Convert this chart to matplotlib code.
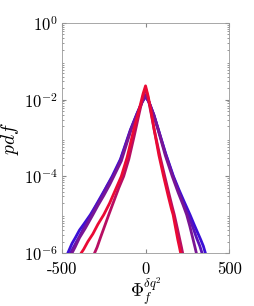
import numpy as np
import matplotlib
matplotlib.use("Agg")
import matplotlib.pyplot as plt

plt.rcParams["mathtext.fontset"] = "cm"
plt.rcParams["font.family"] = "serif"
plt.rcParams["font.serif"] = ["cmr10", "DejaVu Serif"]
plt.rcParams["axes.formatter.use_mathtext"] = True

# log10(pdf), one curve per case (blue -> red)
x_blue = [-465, -440, -420, -395, -370, -330, -300, -270, -235, -200, -150, -91, -50, -20, 0,
          20, 50, 77, 120, 167, 200, 230, 266, 290, 310, 330, 346, 358]
y_blue = [-6.0, -5.75, -5.6, -5.4, -5.25, -5.0, -4.78, -4.55, -4.28, -4.0, -3.55, -2.79, -2.35, -2.06, -1.92,
          -2.06, -2.4, -2.79, -3.4, -4.0, -4.35, -4.65, -5.0, -5.25, -5.45, -5.65, -5.82, -6.0]

x_violet = [-450, -425, -400, -370, -330, -300, -265, -230, -195, -150, -90, -50, -20, 0,
            20, 50, 78, 120, 165, 200, 235, 260, 285, 305, 325, 338]
y_violet = [-6.0, -5.8, -5.6, -5.35, -5.05, -4.8, -4.55, -4.25, -4.0, -3.58, -2.8, -2.36, -2.06, -1.9,
            -2.06, -2.4, -2.8, -3.42, -4.0, -4.4, -4.8, -5.05, -5.35, -5.6, -5.82, -6.0]

x_purple = [-440, -422, -395, -360, -315, -285, -250, -215, -190, -145, -88, -48, -20, 0,
            20, 50, 76, 118, 160, 195, 225, 246, 265, 282, 296, 304]
y_purple = [-6.0, -5.85, -5.6, -5.35, -5.0, -4.76, -4.5, -4.22, -4.0, -3.6, -2.8, -2.36, -2.05, -1.88,
            -2.05, -2.42, -2.8, -3.45, -4.0, -4.42, -4.75, -5.0, -5.3, -5.6, -5.85, -6.0]

x_crimson = [-305, -290, -270, -245, -220, -190, -160, -131, -100, -68, -35, -15, 0,
             15, 35, 52, 85, 115, 140, 160, 172, 190, 205, 215, 222]
y_crimson = [-6.0, -5.85, -5.6, -5.3, -5.0, -4.65, -4.3, -4.0, -3.55, -2.95, -2.3, -1.92, -1.7,
             -1.95, -2.4, -2.79, -3.45, -4.0, -4.45, -4.8, -5.0, -5.35, -5.65, -5.85, -6.0]

x_red = [-385, -370, -345, -315, -285, -250, -215, -180, -145, -110, -71, -35, -15, 0,
         15, 35, 52, 80, 108, 135, 155, 165, 180, 193, 203, 210]
y_red = [-6.0, -5.9, -5.7, -5.5, -5.25, -5.0, -4.7, -4.35, -4.0, -3.5, -2.79, -2.2, -1.85, -1.64,
         -1.9, -2.35, -2.79, -3.45, -4.0, -4.5, -4.85, -5.0, -5.35, -5.65, -5.85, -6.0]

curves = [
    (x_blue, y_blue, "#3a0fd6"),
    (x_violet, y_violet, "#5a12b8"),
    (x_purple, y_purple, "#7a1594"),
    (x_crimson, y_crimson, "#b80e62"),
    (x_red, y_red, "#ea0a34"),
]

fig = plt.figure(figsize=(2.54, 3.06), dpi=100)
ax = fig.add_axes([0.244, 0.173, 0.658, 0.752])

for xs, ys, c in curves:
    ax.plot(xs, 10.0 ** np.array(ys), color=c, lw=2.0)

ax.set_yscale("log")
ax.set_xlim(-500, 500)
ax.set_ylim(1e-6, 1)
ax.set_xticks([-500, 0, 500])
ax.set_xticklabels(["-500", "0", "500"])
ax.set_yticks([1e-6, 1e-4, 1e-2, 1])
ax.set_yticklabels([r"$10^{-6}$", r"$10^{-4}$", r"$10^{-2}$", r"$10^{0}$"])
ax.minorticks_on()
ax.xaxis.set_minor_locator(matplotlib.ticker.NullLocator())

ax.tick_params(which="both", direction="in", top=True, right=True, colors="#888888",
               labelcolor="black", labelsize=12)
ax.tick_params(which="major", length=3)
ax.tick_params(which="minor", length=1.5)
ax.tick_params(axis="x", pad=6)
ax.tick_params(axis="y", pad=3)
for s in ax.spines.values():
    s.set_color("#999999")
    s.set_linewidth(0.6)

ax.set_ylabel(r"$pdf$", fontsize=14, labelpad=2)
ax.set_xlabel(r"$\Phi_f^{\delta q^2}$", fontsize=13, labelpad=-1)

fig.savefig("out.png", dpi=100)
